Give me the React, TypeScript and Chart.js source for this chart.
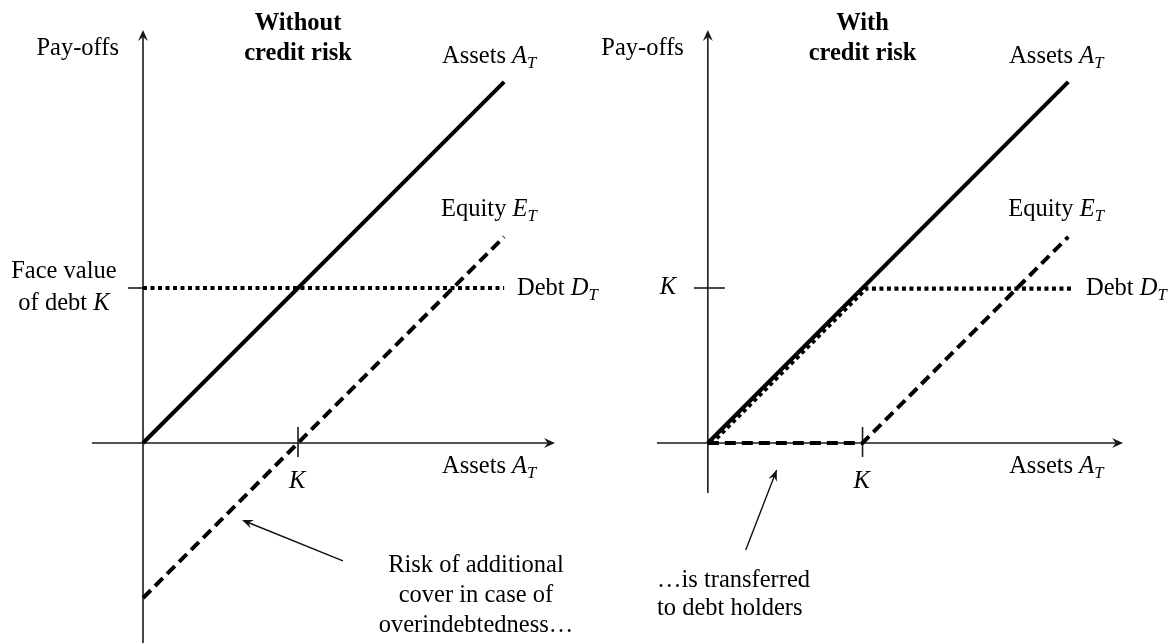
import React, { useEffect, useRef } from 'react';
import { Chart, registerables } from 'chart.js';

Chart.register(...registerables);

// ---- data (in units of the face value of debt K) ----
const K = 1;
const assetsX = [0, 2.33];
const assetsY = [0, 2.33];
const leftEquityX = [0, 2.33];
const leftEquityY = [-1, 1.33];
const leftDebtX = [0, 2.33];
const leftDebtY = [1, 1];
const rightAssetsX = [0, 2.33];
const rightAssetsY = [0, 2.33];
const rightDebtX = [0, 1, 2.33];
const rightDebtY = [0, 1, 1];
const rightEquityX = [0, 1, 2.33];
const rightEquityY = [0, 0, 1.33];

const leftTitle = ['Without', 'credit risk'];
const rightTitle = ['With', 'credit risk'];
const yAxisLabel = 'Pay-offs';
const leftYTickLabel = ['Face value', 'of debt '];
const leftNote = ['Risk of additional', 'cover in case of', 'overindebtedness…'];
const rightNote = ['…is transferred', 'to debt holders'];

const FONT = '"Liberation Serif", "Times New Roman", serif';
const SIZE = 24.5;

type Part = [string, 'n' | 'i' | 's' | 'b'];

function fontFor(style: string, size: number) {
  if (style === 'b') return `bold ${size}px ${FONT}`;
  if (style === 'i') return `italic ${size}px ${FONT}`;
  if (style === 's') return `italic ${size * 0.68}px ${FONT}`;
  return `${size}px ${FONT}`;
}

function drawRich(ctx: CanvasRenderingContext2D, parts: Part[], x: number, y: number, align: 'left' | 'center' | 'right', size = SIZE) {
  ctx.save();
  ctx.textBaseline = 'alphabetic';
  ctx.textAlign = 'left';
  ctx.fillStyle = '#000';
  let total = 0;
  const widths = parts.map(([t, s]) => {
    ctx.font = fontFor(s, size);
    const w = ctx.measureText(t).width;
    total += w;
    return w;
  });
  let cx = align === 'left' ? x : align === 'center' ? x - total / 2 : x - total;
  parts.forEach(([t, s], i) => {
    ctx.font = fontFor(s, size);
    const dy = s === 's' ? size * 0.22 : 0;
    ctx.fillText(t, cx, y + dy);
    cx += widths[i];
  });
  ctx.restore();
}

function arrowHead(ctx: CanvasRenderingContext2D, tx: number, ty: number, fx: number, fy: number, len = 11, hw = 5) {
  const a = Math.atan2(ty - fy, tx - fx);
  ctx.save();
  ctx.translate(tx, ty);
  ctx.rotate(a);
  ctx.beginPath();
  ctx.moveTo(0, 0);
  ctx.lineTo(-len, -hw);
  ctx.lineTo(-len * 0.65, 0);
  ctx.lineTo(-len, hw);
  ctx.closePath();
  ctx.fill();
  ctx.restore();
}

function line(ctx: CanvasRenderingContext2D, x1: number, y1: number, x2: number, y2: number) {
  ctx.beginPath();
  ctx.moveTo(x1, y1);
  ctx.lineTo(x2, y2);
  ctx.stroke();
}

function makeDiagram(side: 'left' | 'right') {
  return {
    id: 'diagram-' + side,
    beforeDatasetsDraw(chart: any) {
      const ctx: CanvasRenderingContext2D = chart.ctx;
      const xs = chart.scales.x;
      const ys = chart.scales.y;
      const px = (v: number) => xs.getPixelForValue(v);
      const py = (v: number) => ys.getPixelForValue(v);
      ctx.save();
      ctx.strokeStyle = '#1a1a1a';
      ctx.fillStyle = '#1a1a1a';
      ctx.lineWidth = 1.6;
      // x axis
      const xStart = side === 'left' ? -0.33 : -0.329;
      const xStop = side === 'left' ? 2.658 : 2.684;
      line(ctx, px(xStart), py(0), px(xStop) - 4, py(0));
      arrowHead(ctx, px(xStop), py(0), px(0), py(0));
      // y axis
      const yTop = 2.665;
      const yBottom = side === 'left' ? chart.height : py(-0.323);
      line(ctx, px(0), yBottom, px(0), py(yTop) + 4);
      arrowHead(ctx, px(0), py(yTop), px(0), py(0));
      // K tick on x axis
      line(ctx, px(K), py(0.103), px(K), py(-0.09));
      // K tick on y axis
      if (side === 'left') line(ctx, px(-0.097), py(K), px(0), py(K));
      else line(ctx, px(-0.09), py(K), px(0.11), py(K));
      ctx.restore();
    },
    afterDatasetsDraw(chart: any) {
      const ctx: CanvasRenderingContext2D = chart.ctx;
      const xs = chart.scales.x;
      const ys = chart.scales.y;
      const px = (v: number) => xs.getPixelForValue(v);
      const py = (v: number) => ys.getPixelForValue(v);
      const title = side === 'left' ? leftTitle : rightTitle;
      drawRich(ctx, [[yAxisLabel, 'n']], px(-0.155), py(2.503), 'right');
      drawRich(ctx, [[title[0], 'b']], px(K), py(2.665), 'center');
      drawRich(ctx, [[title[1], 'b']], px(K), py(2.471), 'center');
      const lx = side === 'left' ? 1.929 : 1.948;
      drawRich(ctx, [['Assets ', 'n'], ['A', 'i'], ['T', 's']], px(lx), py(2.452), 'left');
      drawRich(ctx, [['Equity ', 'n'], ['E', 'i'], ['T', 's']], px(lx - 0.006), py(1.465), 'left');
      drawRich(ctx, [['Debt ', 'n'], ['D', 'i'], ['T', 's']], px(side === 'left' ? 2.413 : 2.445), py(0.955), 'left');
      drawRich(ctx, [['K', 'i']], px(K - 0.006), py(-0.29), 'center');
      drawRich(ctx, [['Assets ', 'n'], ['A', 'i'], ['T', 's']], px(lx), py(-0.194), 'left');
      ctx.save();
      ctx.strokeStyle = '#111';
      ctx.fillStyle = '#111';
      ctx.lineWidth = 1.4;
      if (side === 'left') {
        drawRich(ctx, [[leftYTickLabel[0], 'n']], px(-0.51), py(1.065), 'center');
        drawRich(ctx, [[leftYTickLabel[1], 'n'], ['K', 'i']], px(-0.51), py(0.858), 'center');
        drawRich(ctx, [[leftNote[0], 'n']], px(2.148), py(-0.832), 'center');
        drawRich(ctx, [[leftNote[1], 'n']], px(2.148), py(-1.026), 'center');
        drawRich(ctx, [[leftNote[2], 'n']], px(2.148), py(-1.219), 'center');
        const ax1 = px(1.29), ay1 = py(-0.761), ax2 = px(0.639), ay2 = py(-0.497);
        line(ctx, ax1, ay1, ax2 + 3, ay2 + 1.2);
        arrowHead(ctx, ax2, ay2, ax1, ay1, 11, 4.5);
      } else {
        drawRich(ctx, [['K', 'i']], px(-0.258), py(0.961), 'center');
        drawRich(ctx, [[rightNote[0], 'n']], px(-0.329), py(-0.929), 'left');
        drawRich(ctx, [[rightNote[1], 'n']], px(-0.329), py(-1.11), 'left');
        const ax1 = px(0.245), ay1 = py(-0.69), ax2 = px(0.445), ay2 = py(-0.174);
        line(ctx, ax1, ay1, ax2, ay2);
        arrowHead(ctx, ax2, ay2, ax1, ay1, 11, 4.5);
      }
      ctx.restore();
    },
  };
}

const shiftPlugin = {
  id: 'shift',
  beforeDatasetDraw(chart: any, args: any) {
    const ds = chart.data.datasets[args.index];
    chart.ctx.save();
    if (ds.shiftPx) chart.ctx.translate(ds.shiftPx[0], ds.shiftPx[1]);
  },
  afterDatasetDraw(chart: any) {
    chart.ctx.restore();
  },
};

function pts(xs: number[], ys: number[]) {
  return xs.map((x, i) => ({ x, y: ys[i] }));
}

const solid = { borderColor: '#000', borderWidth: 4, borderDash: [] as number[] };
const dashed = { borderColor: '#000', borderWidth: 4, borderDash: [11, 6] };
const dotted = { borderColor: '#000', borderWidth: 4.2, borderDash: [4, 3.5] };

function makeConfig(side: 'left' | 'right') {
  const datasets =
    side === 'left'
      ? [
          { label: 'Assets', data: pts(assetsX, assetsY), ...solid },
          { label: 'Equity', data: pts(leftEquityX, leftEquityY), ...dashed },
          { label: 'Debt', data: pts(leftDebtX, leftDebtY), ...dotted },
        ]
      : [
          { label: 'Assets', data: pts(rightAssetsX, rightAssetsY), ...solid },
          { label: 'Equity', data: pts(rightEquityX, rightEquityY), ...dashed },
          { label: 'Debt', data: pts(rightDebtX, rightDebtY), ...dotted, shiftPx: [3.4, 0.6] },
        ];
  const full = datasets.map((d) => ({
    ...d,
    pointRadius: 0,
    fill: false,
    tension: 0,
    borderCapStyle: 'butt',
    borderJoinStyle: 'miter',
    clip: false,
  }));
  const padding =
    side === 'left'
      ? { left: 65.5, right: 566, top: 9, bottom: 14 }
      : { left: 630.5, right: 1, top: 9, bottom: 14 };
  return {
    type: 'line' as const,
    data: { datasets: full },
    options: {
      animation: false,
      responsive: false,
      maintainAspectRatio: false,
      events: [],
      layout: { padding },
      scales: {
        x: { type: 'linear', min: -0.5, max: 3, display: false },
        y: { type: 'linear', min: -1.2, max: 2.8, display: false },
      },
      plugins: { legend: { display: false }, tooltip: { enabled: false } },
    },
    plugins: [makeDiagram(side), shiftPlugin],
  };
}

export default function App() {
  const leftRef = useRef<HTMLCanvasElement>(null);
  const rightRef = useRef<HTMLCanvasElement>(null);
  useEffect(() => {
    const charts: Chart[] = [];
    if (leftRef.current) charts.push(new Chart(leftRef.current, makeConfig('left') as any));
    if (rightRef.current) charts.push(new Chart(rightRef.current, makeConfig('right') as any));
    if ((document as any).fonts) {
      Promise.all([
        (document as any).fonts.load(`${SIZE}px "Liberation Serif"`),
        (document as any).fonts.load(`italic ${SIZE}px "Liberation Serif"`),
        (document as any).fonts.load(`bold ${SIZE}px "Liberation Serif"`),
      ]).then(() => charts.forEach((c) => c.update()));
    }
    return () => charts.forEach((c) => c.destroy());
  }, []);
  const style: React.CSSProperties = { position: 'absolute', left: 0, top: 0, width: 1174, height: 643 };
  return (
    <div style={{ position: 'fixed', left: 0, top: 0, width: 1174, height: 643, background: '#fff' }}>
      <canvas ref={leftRef} width={1174} height={643} style={style} />
      <canvas ref={rightRef} width={1174} height={643} style={style} />
    </div>
  );
}
